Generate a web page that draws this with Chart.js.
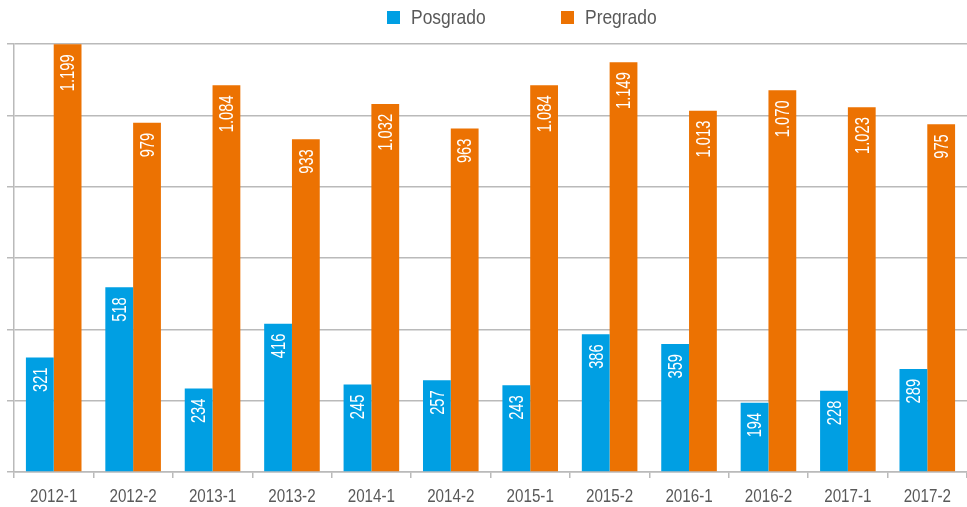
<!DOCTYPE html>
<html>
<head>
<meta charset="utf-8">
<script src="https://cdn.jsdelivr.net/npm/chart.js@4"></script>
<style>
html,body{margin:0;padding:0;background:#fff;}
#wrap{width:967px;height:507px;position:relative;}
</style>
</head>
<body>
<div id="wrap"><canvas id="c" width="967" height="507"></canvas></div>
<script>
const categories = ['2012-1','2012-2','2013-1','2013-2','2014-1','2014-2','2015-1','2015-2','2016-1','2016-2','2017-1','2017-2'];
const posgrado = [321,518,234,416,245,257,243,386,359,194,228,289];
const pregrado = [1199,979,1084,933,1032,963,1084,1149,1013,1070,1023,975];
const seriesNames = ['Posgrado','Pregrado'];
const yTicks = [0,200,400,600,800,1000,1200];

const BLUE = '#009FE3';
const ORANGE = '#EC7202';
const FONT = '"Liberation Sans", Arial, sans-serif';

function fmt(v){ return String(v).replace(/\B(?=(\d{3})+(?!\d))/g, '.'); }

const labelPlugin = {
  id: 'barLabels',
  afterDatasetsDraw(chart){
    const ctx = chart.ctx;
    chart.data.datasets.forEach((ds, di) => {
      const meta = chart.getDatasetMeta(di);
      meta.data.forEach((el, i) => {
        ctx.save();
        ctx.translate(el.x, el.y + 10);
        ctx.rotate(-Math.PI/2);
        ctx.scale(0.7, 1);
        ctx.fillStyle = '#ffffff';
        ctx.font = '21px ' + FONT;
        ctx.textAlign = 'right';
        ctx.textBaseline = 'middle';
        ctx.fillText(fmt(ds.data[i]), 0, 1);
        ctx.restore();
      });
    });
  }
};

const xLabelPlugin = {
  id: 'xLabels',
  afterDraw(chart){
    const ctx = chart.ctx;
    const xs = chart.scales.x;
    chart.data.labels.forEach((lab, i) => {
      const x = xs.getPixelForTick(i);
      ctx.save();
      ctx.translate(x, 501.5);
      ctx.scale(0.8, 1);
      ctx.fillStyle = '#595959';
      ctx.font = '19px ' + FONT;
      ctx.textAlign = 'center';
      ctx.textBaseline = 'alphabetic';
      ctx.fillText(lab, 0, 0);
      ctx.restore();
    });
  }
};

const legendPlugin = {
  id: 'customLegend',
  afterDraw(chart){
    const ctx = chart.ctx;
    const pos = [387, 561];
    chart.data.datasets.forEach((ds, di) => {
      ctx.save();
      ctx.fillStyle = ds.backgroundColor;
      ctx.fillRect(pos[di], 11, 13, 13);
      ctx.translate(pos[di] + 24, 18);
      ctx.scale(0.83, 1);
      ctx.fillStyle = '#595959';
      ctx.font = '21px ' + FONT;
      ctx.textAlign = 'left';
      ctx.textBaseline = 'middle';
      ctx.fillText(ds.label, 0, 0);
      ctx.restore();
    });
  }
};

new Chart(document.getElementById('c'), {
  type: 'bar',
  data: {
    labels: categories,
    datasets: [
      { label: seriesNames[0], data: posgrado, backgroundColor: BLUE, categoryPercentage: 0.70, barPercentage: 1.0 },
      { label: seriesNames[1], data: pregrado, backgroundColor: ORANGE, categoryPercentage: 0.70, barPercentage: 1.0 }
    ]
  },
  options: {
    responsive: false,
    animation: false,
    layout: { padding: { top: 44, left: 7, right: 0, bottom: 29 } },
    plugins: { legend: { display: false }, tooltip: { enabled: false } },
    scales: {
      x: {
        offset: true,
        grid: { offset: true, drawOnChartArea: false, drawTicks: true, tickLength: 6, color: '#bababa', lineWidth: 1.5 },
        border: { color: '#bababa', width: 1.5 },
        ticks: { display: false }
      },
      y: {
        min: 0, max: 1200,
        afterBuildTicks(scale){ scale.ticks = yTicks.map(v => ({value: v})); },
        grid: { color: '#bababa', lineWidth: 1.5, drawTicks: true, tickLength: 7 },
        border: { color: '#bababa', width: 1.5 },
        ticks: { display: false }
      }
    }
  },
  plugins: [labelPlugin, xLabelPlugin, legendPlugin]
});
</script>
</body>
</html>
